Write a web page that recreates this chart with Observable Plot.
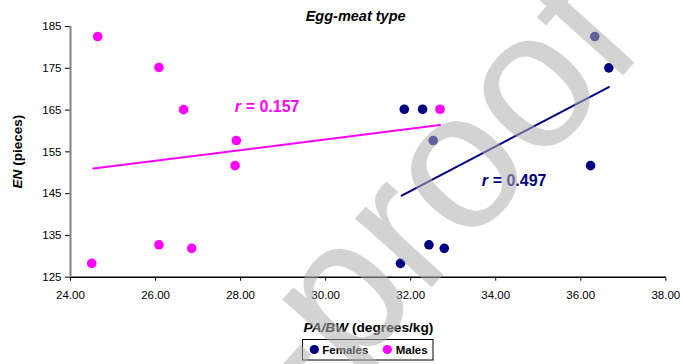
<!DOCTYPE html>
<html>
<head>
<meta charset="utf-8">
<script src="https://cdn.jsdelivr.net/npm/d3@7"></script>
<script src="https://cdn.jsdelivr.net/npm/@observablehq/plot@0.6"></script>
<style>
  html, body { margin: 0; padding: 0; background: #fff; }
  #chart svg { display: block; font-family: "Liberation Sans", Arial, sans-serif; }
</style>
</head>
<body>
<div id="chart"></div>
<script>
// ---- data ----
const femalesX = [31.85, 32.28, 32.53, 31.76, 32.43, 32.79, 36.33, 36.66, 36.23];
const femalesY = [165.2, 165.2, 157.7, 128.3, 132.75, 131.9, 182.6, 175.1, 151.7];
const malesX = [24.64, 26.08, 26.66, 27.90, 27.87, 24.50, 26.08, 26.85, 32.69];
const malesY = [182.6, 175.2, 165.1, 157.7, 151.7, 128.3, 132.75, 131.9, 165.2];
// trend line endpoints (x, y)
const femalesTrendX = [31.79, 36.66];
const femalesTrendY = [144.5, 170.5];
const malesTrendX = [24.54, 32.69];
const malesTrendY = [151.0, 161.4];
const femalesR = "= 0.497";
const malesR = "= 0.157";
const xTicks = [24, 26, 28, 30, 32, 34, 36, 38];
const yTicks = [125, 135, 145, 155, 165, 175, 185];
const titleText = "Egg-meat type";
const seriesNames = ["Females", "Males"];
const watermark = "Pre-proof";

const navy = "#000080", magenta = "#FF00FF";
const females = femalesX.map((x, i) => ({x, y: femalesY[i]}));
const males = malesX.map((x, i) => ({x, y: malesY[i]}));
const fTrend = femalesTrendX.map((x, i) => ({x, y: femalesTrendY[i]}));
const mTrend = malesTrendX.map((x, i) => ({x, y: malesTrendY[i]}));

const chart = Plot.plot({
  width: 682,
  height: 364,
  marginLeft: 70,
  marginRight: 16.7,
  marginTop: 26,
  marginBottom: 87.3,
  style: {fontFamily: "Liberation Sans, Arial, sans-serif", background: "#fff", color: "#000"},
  x: {domain: [24, 38]},
  y: {domain: [125, 185]},
  marks: [
    Plot.axisX({ticks: xTicks, tickFormat: d => d.toFixed(2), tickSize: 4, tickPadding: 10, fontSize: 11.5, label: null, stroke: "#000", strokeWidth: 1}),
    Plot.axisY({ticks: yTicks, tickSize: 5, tickPadding: 4, fontSize: 11.5, label: null, stroke: "#000", strokeWidth: 1}),
    Plot.ruleY([125], {stroke: "#000", strokeWidth: 1.5}),
    Plot.ruleX([24], {stroke: "#808080", strokeWidth: 2}),
    Plot.line(mTrend, {x: "x", y: "y", stroke: magenta, strokeWidth: 2}),
    Plot.line(fTrend, {x: "x", y: "y", stroke: navy, strokeWidth: 2}),
    Plot.dot(females, {x: "x", y: "y", r: 4.8, fill: navy}),
    Plot.dot(males, {x: "x", y: "y", r: 4.8, fill: magenta}),
    // r labels
    Plot.text(["r"], {x: [27.86], y: [164.5], textAnchor: "start", lineAnchor: "bottom", fill: magenta, fontSize: 16, fontWeight: "bold", fontStyle: "italic"}),
    Plot.text([malesR], {x: [27.86], y: [164.5], dx: 11, textAnchor: "start", lineAnchor: "bottom", fill: magenta, fontSize: 16, fontWeight: "bold"}),
    Plot.text(["r"], {x: [33.67], y: [146.9], textAnchor: "start", lineAnchor: "bottom", fill: navy, fontSize: 16, fontWeight: "bold", fontStyle: "italic"}),
    Plot.text([femalesR], {x: [33.67], y: [146.9], dx: 11, textAnchor: "start", lineAnchor: "bottom", fill: navy, fontSize: 16, fontWeight: "bold"}),
    // title
    Plot.text([titleText], {frameAnchor: "top", dx: -12.5, dy: -5.3, lineAnchor: "bottom", fontSize: 14.5, fontWeight: "bold", fontStyle: "italic", fill: "#000"}),
    // x label
    Plot.text(["PA/BW"], {frameAnchor: "bottom", dx: -20, dy: 55, textAnchor: "end", lineAnchor: "bottom", fontSize: 13.7, fontWeight: "bold", fontStyle: "italic", fill: "#000"}),
    Plot.text(["(degrees/kg)"], {frameAnchor: "bottom", dx: -16.2, dy: 55, textAnchor: "start", lineAnchor: "bottom", fontSize: 13.7, fontWeight: "bold", fill: "#000"}),
    // y label
    Plot.text(["EN"], {frameAnchor: "left", dx: -49, dy: 36.7, rotate: -90, textAnchor: "start", lineAnchor: "bottom", fontSize: 13.5, fontWeight: "bold", fontStyle: "italic", fill: "#000"}),
    Plot.text(["(pieces)"], {frameAnchor: "left", dx: -49, dy: 14, rotate: -90, textAnchor: "start", lineAnchor: "bottom", fontSize: 13.5, fontWeight: "bold", fill: "#000"})
  ]
});

document.getElementById("chart").appendChild(chart);

// legend (below the plot area)
const svg = d3.select(chart);
const lg = svg.append("g").attr("font-family", "Liberation Sans, Arial, sans-serif").attr("text-anchor", "start");
lg.append("rect").attr("x", 302.5).attr("y", 339.5).attr("width", 130.5).attr("height", 20.5)
  .attr("fill", "#fff").attr("stroke", "#000").attr("stroke-width", 1);
const items = [
  {name: seriesNames[0], color: navy, cx: 314.3, tx: 322.3},
  {name: seriesNames[1], color: magenta, cx: 387.3, tx: 395.7}
];
for (const it of items) {
  lg.append("circle").attr("cx", it.cx).attr("cy", 349.5).attr("r", 4.6).attr("fill", it.color);
  lg.append("text").attr("x", it.tx).attr("y", 354).attr("font-size", 11.5).attr("font-weight", "bold")
    .attr("text-anchor", "start").attr("fill", "#000").text(it.name);
}

// watermark on top
svg.append("text")
  .attr("transform", "translate(325,304) rotate(-48)")
  .attr("text-anchor", "middle")
  .attr("dy", "0.35em")
  .attr("font-family", "Liberation Sans, Arial, sans-serif")
  .attr("font-size", 195)
  .attr("fill", "#aeaeae")
  .attr("fill-opacity", 0.55)
  .text(watermark);
</script>
</body>
</html>
